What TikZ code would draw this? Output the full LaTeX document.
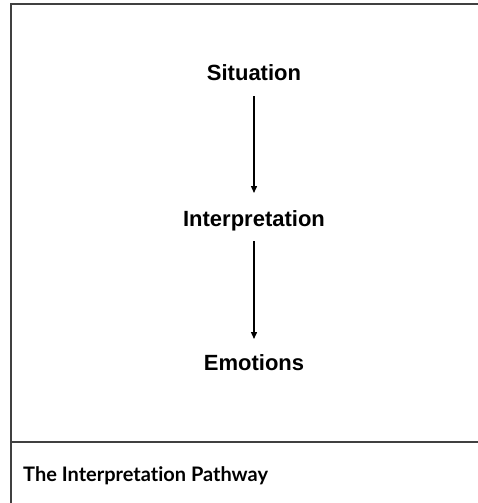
\documentclass[tikz,border=0pt]{standalone}
\usepackage{fontspec}
\setmainfont{Liberation Sans}
\newfontfamily\capfont[Ligatures=NoCommon]{Lato}
\usetikzlibrary{arrows.meta}
\begin{document}
\begin{tikzpicture}[x=1pt,y=-1pt,
  lbl/.style={font=\fontsize{22}{25}\selectfont\bfseries, inner sep=0pt, anchor=base},
  flow/.style={-{Triangle[length=7pt,width=6pt]}, line width=1.4pt, black},
  frame/.style={draw=black!75, line width=1.4pt}]
\useasboundingbox (0,0) rectangle (478,503);
\fill[white] (0,0) rectangle (478,503);
\draw[frame] (490,4) -- (11,4) -- (11,510);
\draw[frame] (11,442) -- (490,442);
\node[lbl] (sit) at (254,81) {Situation};
\node[lbl] (int) at (254,226) {Interpretation};
\node[lbl] (emo) at (254,370) {Emotions};
\coordinate (a1s) at (254,96);
\coordinate (a1e) at (254,193);
\coordinate (a2s) at (254,241);
\coordinate (a2e) at (254,339);
\draw[flow] (a1s) -- (a1e);
\draw[flow] (a2s) -- (a2e);
\node[font=\capfont\fontsize{20}{23}\selectfont\bfseries, anchor=base west, inner sep=0pt] (cap) at (23,481) {The Interpretation Pathway};
\end{tikzpicture}
\end{document}
